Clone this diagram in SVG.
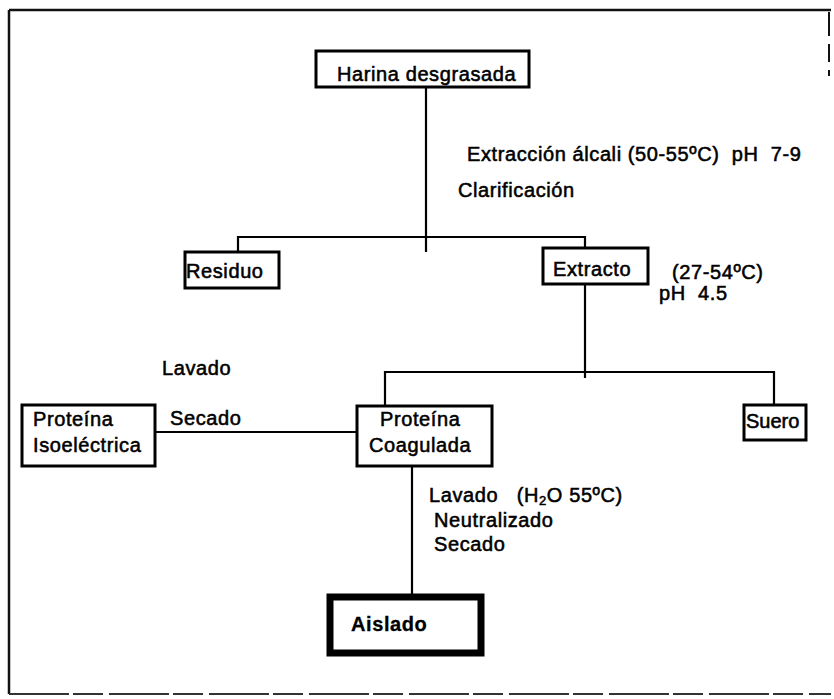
<svg xmlns="http://www.w3.org/2000/svg" width="834" height="699" viewBox="0 0 834 699">
<style>
.box{fill:#fff;stroke:#000;stroke-width:3}
.thick{fill:#fff;stroke:#000;stroke-width:7}
.ln{fill:none;stroke:#000;stroke-width:2.2}
.frame{fill:none;stroke:#111;stroke-width:2.5}
text{font-family:"Liberation Sans",Arial,sans-serif;font-size:20px;letter-spacing:0.6px;fill:#000;stroke:#000;stroke-width:0.55;white-space:pre}
.b{font-weight:bold;stroke-width:0.3}
</style>
<rect width="834" height="699" fill="#fff"/>
<g id="frame">
<path class="frame" d="M9,10 H831 M9,10 V694"/>
<path d="M9,694 H831" fill="none" stroke="#333" stroke-width="2" stroke-dasharray="60,4,30,6"/>
<path d="M829,12 V36 M829,44 V62 M829,70 V76" fill="none" stroke="#111" stroke-width="2"/>
</g>
<g id="connectors">
<path class="ln" d="M426,87 V252"/>
<path class="ln" d="M238,258 V237 H585 V254"/>
<path class="ln" d="M585,284 V378"/>
<path class="ln" d="M385,406 V372 H774 V405"/>
<path class="ln" d="M155,432 H357"/>
<path class="ln" d="M412,466 V597"/>
</g>
<g id="labels">
<text x="467" y="161">Extracción álcali (50-55ºC)  pH  7-9</text>
<text x="458" y="197">Clarificación</text>
<text x="672" y="279">(27-54ºC)</text>
<text x="659" y="300">pH  4.5</text>
<text x="162" y="375">Lavado</text>
<text x="170" y="425">Secado</text>
<text x="429" y="502">Lavado   (H<tspan font-size="13" dy="3">2</tspan><tspan dy="-3">O 55ºC)</tspan></text>
<text x="434" y="527">Neutralizado</text>
<text x="434" y="551">Secado</text>
</g>
<g id="harina">
<rect class="box" x="316" y="51" width="213" height="36"/>
<text x="337" y="81">Harina desgrasada</text>
</g>
<g id="residuo">
<rect class="box" x="185" y="252" width="94" height="36"/>
<text x="186" y="278">Residuo</text>
</g>
<g id="extracto">
<rect class="box" x="543" y="248" width="105" height="36"/>
<text x="553" y="276">Extracto</text>
</g>
<g id="coagulada">
<rect class="box" x="357" y="406" width="135" height="60"/>
<text x="380" y="426">Proteína</text>
<text x="369" y="452">Coagulada</text>
</g>
<g id="suero">
<rect class="box" x="744" y="405" width="62" height="35"/>
<text x="746" y="428" style="letter-spacing:0">Suero</text>
</g>
<g id="isoelectrica">
<rect class="box" x="22" y="405" width="133" height="61"/>
<text x="33" y="426">Proteína</text>
<text x="33" y="452">Isoeléctrica</text>
</g>
<g id="aislado">
<rect class="thick" x="330" y="597" width="151" height="56"/>
<text class="b" x="351" y="631">Aislado</text>
</g>
</svg>
